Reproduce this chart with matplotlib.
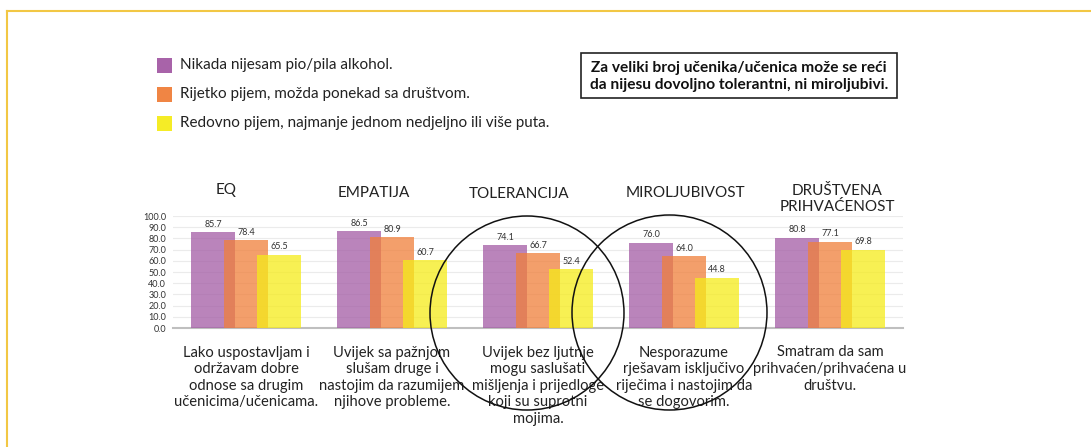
import matplotlib
matplotlib.use("Agg")
import matplotlib.pyplot as plt
from matplotlib.patches import Rectangle, Ellipse
from matplotlib.lines import Line2D
from matplotlib.transforms import blended_transform_factory

plt.rcParams['font.family'] = ['Lato', 'DejaVu Sans']

# ---------------- data ----------------
groups = ["EQ", "EMPATIJA", "TOLERANCIJA", "MIROLJUBIVOST", "DRUŠTVENA\nPRIHVAĆENOST"]
descriptions = [
    "Lako uspostavljam i\nodržavam dobre\nodnose sa drugim\nučenicima/učenicama.",
    "Uvijek sa pažnjom\nslušam druge i\nnastojim da razumijem\nnjihove probleme.",
    "Uvijek bez ljutnje\nmogu saslušati\nmišljenja i prijedloge\nkoji su suprotni\nmojima.",
    "Nesporazume\nrješavam isključivo\nriječima i nastojim da\nse dogovorim.",
    "Smatram da sam\nprihvaćen/prihvaćena u\ndruštvu.",
]
series_names = [
    "Nikada nijesam pio/pila alkohol.",
    "Rijetko pijem, možda ponekad sa društvom.",
    "Redovno pijem, najmanje jednom nedjeljno ili više puta.",
]
never = [85.7, 86.5, 74.1, 76.0, 80.8]
rarely = [78.4, 80.9, 66.7, 64.0, 77.1]
regularly = [65.5, 60.7, 52.4, 44.8, 69.8]
yticks = [0, 10, 20, 30, 40, 50, 60, 70, 80, 90, 100]
note = "Za veliki broj učenika/učenica može se reći\nda nijesu dovoljno tolerantni, ni miroljubivi."

# ---------------- styling ----------------
colors = ["#A35BA5", "#F07F3A", "#F5EB1A"]
alpha = 0.75
W, H = 1091, 447

def fx(x):
    return x / W

def fy(y):
    return 1 - y / H

fig = plt.figure(figsize=(W / 100, H / 100), dpi=100)

# golden frame
fig.add_artist(Line2D([fx(7), fx(1100)], [fy(11), fy(11)], color="#F2C744", lw=1.5))
fig.add_artist(Line2D([fx(7), fx(7)], [fy(11), fy(460)], color="#F2C744", lw=1.5))

ax = fig.add_axes([fx(173), fy(328), 730 / W, 112 / H])
series = [never, rarely, regularly]
offsets = [-0.226, 0.0, 0.226]
width = 0.30
x = list(range(len(groups)))
for vals, off, c in zip(series, offsets, colors):
    xs = [i + off for i in x]
    bars = ax.bar(xs, vals, width=width, color=c, alpha=alpha, linewidth=0, zorder=3)
    for b, v in zip(bars, vals):
        ax.annotate(f"{v:.1f}", (b.get_x() + b.get_width() / 2, v),
                    xytext=(0, 2.5), textcoords="offset points",
                    ha="center", va="bottom", fontsize=6.5, color="#333333", zorder=5)

ax.set_xlim(-0.5, 4.5)
ax.set_ylim(0, 100)
ax.set_yticks(yticks)
ax.set_yticklabels([f"{t:.1f}" for t in yticks], fontsize=6.5, color="#333333")
ax.set_xticks([])
ax.tick_params(axis="y", length=0, pad=5)
for s in ["top", "right", "left"]:
    ax.spines[s].set_visible(False)
ax.spines["bottom"].set_color("#BFBFBF")
ax.spines["bottom"].set_linewidth(1.5)
ax.grid(axis="y", color="#EBEBEB", lw=0.8, zorder=0)
ax.set_axisbelow(True)

# group titles
title_pos = [(226, 190), (374, 193), (519, 194), (685, 193), (837, 199)]
for t, (px, py) in zip(groups, title_pos):
    fig.text(fx(px), fy(py), t, ha="center", va="center", fontsize=11,
             color="#222222", linespacing=1.25)

# descriptions below
tr = blended_transform_factory(ax.transData, fig.transFigure)
for i, d in enumerate(descriptions):
    ax.text(i, fy(345.5), d, transform=tr, ha="center", va="top", fontsize=10.6,
            color="#222222", linespacing=1.24, clip_on=False)

# legend
leg_y = [65, 94, 123]
for name, c, ly in zip(series_names, colors, leg_y):
    fig.add_artist(Rectangle((fx(157), fy(ly + 7.5)), 15 / W, 15 / H,
                             transform=fig.transFigure, facecolor=c, alpha=0.95,
                             edgecolor="none"))
    fig.text(fx(180), fy(ly), name, ha="left", va="center", fontsize=11, color="#222222")

# note box
fig.add_artist(Rectangle((fx(581), fy(98)), 316 / W, 45 / H, transform=fig.transFigure,
                         fill=False, edgecolor="#222222", lw=1.2))
fig.text(fx(739), fy(76.5), note, ha="center", va="center", fontsize=11.2,
         fontweight="bold", color="#111111", linespacing=1.3)

# circles
for cx, cy, r in [(527, 313, 97), (669.5, 312.5, 97.5)]:
    fig.add_artist(Ellipse((fx(cx), fy(cy)), 2 * r / W, 2 * r / H,
                           transform=fig.transFigure, fill=False,
                           edgecolor="#111111", lw=1.1, zorder=10))

fig.savefig("out.png", dpi=100, facecolor="white")
